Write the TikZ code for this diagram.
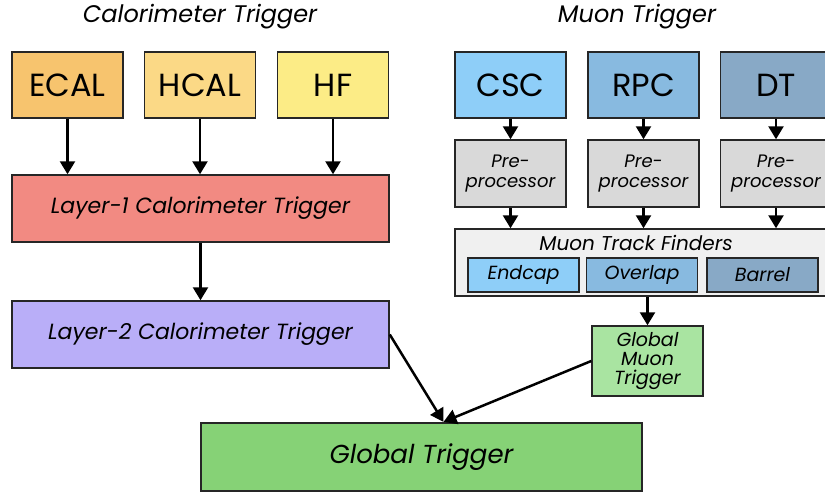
\documentclass[tikz,border=0pt]{standalone}
\usepackage{fontspec}
\setmainfont{Poppins}
\usepackage{xcolor}
\usetikzlibrary{arrows.meta,positioning,calc}

\definecolor{ecalc}{HTML}{F7C46E}
\definecolor{hcalc}{HTML}{FBD986}
\definecolor{hfc}{HTML}{FCEC86}
\definecolor{lonec}{HTML}{F28A82}
\definecolor{ltwoc}{HTML}{B9AEF8}
\definecolor{gtc}{HTML}{86D276}
\definecolor{gmtc}{HTML}{A9E4A1}
\definecolor{cscc}{HTML}{8ECEF8}
\definecolor{rpcc}{HTML}{88BAE0}
\definecolor{dtc}{HTML}{88A9C6}
\definecolor{prec}{HTML}{D9D9D9}
\definecolor{mtfc}{HTML}{F0F0F0}

\begin{document}
\begin{tikzpicture}[
  x=1pt, y=-1pt,
  box/.style={draw=black!85, line width=1.5pt, minimum width=111pt, minimum height=66pt,
              inner sep=0pt, align=center},
  big/.style={font=\fontsize{32}{34}\selectfont},
  wide/.style={box, minimum width=377pt, minimum height=67pt,
               font=\fontsize{22}{24}\selectfont\itshape},
  pre/.style={box, fill=prec, minimum height=67pt,
              font=\fontsize{18}{20}\selectfont\itshape},
  sub/.style={box, minimum height=34pt, line width=1.3pt,
              font=\fontsize{19}{20}\selectfont\itshape},
  title/.style={font=\fontsize{24}{26}\selectfont\itshape},
  arr/.style={-{Triangle[length=13pt,width=15pt]}, line width=2.5pt},
]
  \useasboundingbox (0,0) rectangle (825,493);

  % Titles
  \node[title] (caltitle) at (200,17) {Calorimeter Trigger};
  \node[title] (mutitle)  at (637,17) {Muon Trigger};

  % Calorimeter side
  \node[box, big, fill=ecalc] (ecal) at (67.5,85)  {ECAL};
  \node[box, big, fill=hcalc] (hcal) at (200,85)   {HCAL};
  \node[box, big, fill=hfc]   (hf)   at (333,85)   {HF};
  \node[wide, fill=lonec] (layer1) at (200.5,208.5) {Layer-1 Calorimeter Trigger};
  \node[wide, fill=ltwoc] (layer2) at (200.5,334.5) {Layer-2 Calorimeter Trigger};

  % Muon side
  \node[box, big, fill=cscc] (csc) at (510.5,85) {CSC};
  \node[box, big, fill=rpcc] (rpc) at (643.5,85) {RPC};
  \node[box, big, fill=dtc]  (dt)  at (776,85)   {DT};
  \node[pre] (precsc) at (510.5,173.5) {Pre-\\processor};
  \node[pre] (prerpc) at (643.5,173.5) {Pre-\\processor};
  \node[pre] (predt)  at (776,173.5)   {Pre-\\processor};

  \node[box, fill=mtfc, minimum width=377pt, minimum height=67pt] (mtf) at (643.5,262.5) {};
  \node[font=\fontsize{20}{22}\selectfont\itshape] (mtflabel) at (636,243) {Muon Track Finders};
  \node[sub, fill=cscc] (endcap)  at (523.5,275) {Endcap};
  \node[sub, fill=rpcc] (overlap) at (642,275)   {Overlap};
  \node[sub, fill=dtc]  (barrel)  at (762.5,275) {Barrel};

  \node[box, fill=gmtc, minimum height=70pt, font=\fontsize{19}{19}\selectfont\itshape]
    (gmt) at (647.5,361) {Global\\Muon\\Trigger};

  % Global trigger
  \node[box, fill=gtc, line width=2.2pt, minimum width=441pt, minimum height=68pt,
        font=\fontsize{26}{28}\selectfont\itshape] (gt) at (421.5,457) {Global Trigger};

  % Arrows, calorimeter
  \draw[arr] (ecal) -- (ecal |- layer1.north);
  \draw[arr] (hcal) -- (hcal |- layer1.north);
  \draw[arr] (hf)   -- (hf |- layer1.north);
  \draw[arr] (layer1) -- (layer2);

  % Arrows, muon
  \draw[arr] (csc) -- (precsc);
  \draw[arr] (rpc) -- (prerpc);
  \draw[arr] (dt)  -- (predt);
  \draw[arr] (precsc) -- (precsc |- mtf.north);
  \draw[arr] (prerpc) -- (prerpc |- mtf.north);
  \draw[arr] (predt)  -- (predt |- mtf.north);
  \draw[arr] (mtf.south -| gmt) -- (gmt);

  % Into the global trigger
  \draw[arr] (layer2.east) -- ([xshift=22pt]gt.north);
  \draw[arr] (gmt.west) -- ([xshift=22pt]gt.north);
\end{tikzpicture}
\end{document}
